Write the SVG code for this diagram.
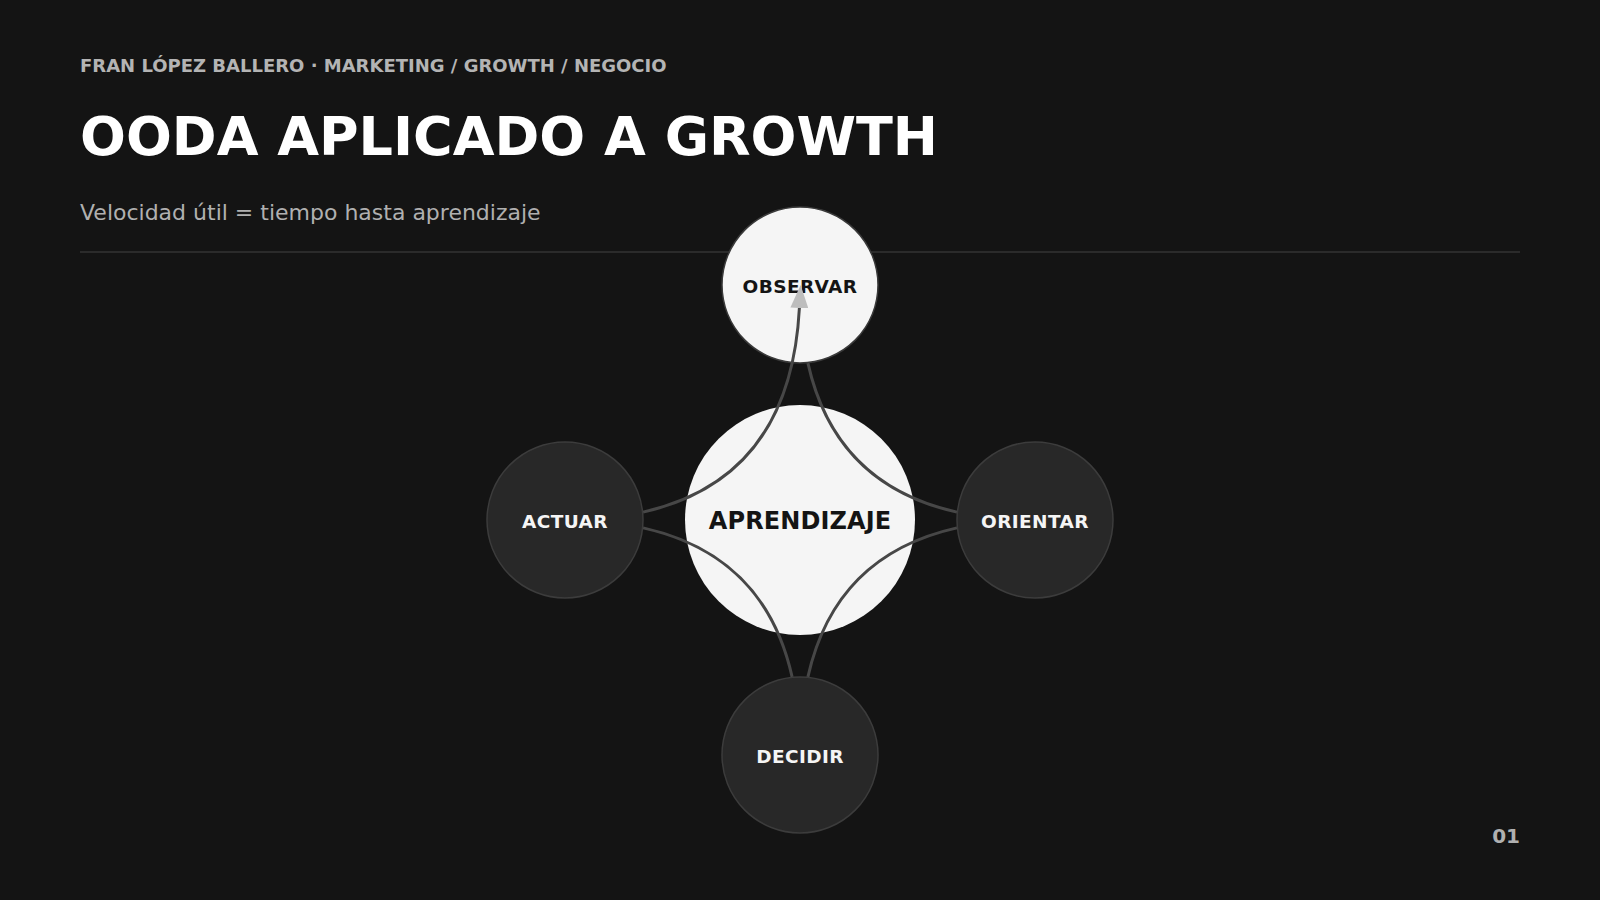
<svg xmlns="http://www.w3.org/2000/svg" width="1600" height="900" viewBox="0 0 1600 900">
  <defs>
    <style>
      .bg { fill: #141414; }
      .kicker { font-family: "DejaVu Sans", "Liberation Sans", sans-serif; font-weight: bold; font-size: 18px; fill: #b4b4b4; }
      .title { font-family: "DejaVu Sans", "Liberation Sans", sans-serif; font-weight: bold; font-size: 54px; fill: #ffffff; }
      .subtitle { font-family: "DejaVu Sans", "Liberation Sans", sans-serif; font-size: 22px; fill: #b0b0b0; }
      .rule { stroke: #333333; stroke-width: 1.5; }
      .pagenum { font-family: "DejaVu Sans", "Liberation Sans", sans-serif; font-weight: bold; font-size: 20px; fill: #b0b0b0; }
      .node-light { fill: #f5f5f5; stroke: #3a3a3a; stroke-width: 1.5; }
      .node-dark { fill: #282828; stroke: #3c3c3c; stroke-width: 1.5; }
      .core { fill: #f5f5f5; }
      .label { font-family: "DejaVu Sans", "Liberation Sans", sans-serif; font-weight: bold; font-size: 18.5px; letter-spacing: 0.4px; text-anchor: middle; }
      .label-dark { fill: #141414; }
      .label-light { fill: #f5f5f5; }
      .core-label { font-family: "DejaVu Sans", "Liberation Sans", sans-serif; font-weight: bold; font-size: 24px; letter-spacing: 0.1px; text-anchor: middle; fill: #141414; }
      .link { fill: none; stroke: #474747; stroke-width: 3; }
    </style>
    <marker id="arrow" markerUnits="userSpaceOnUse" markerWidth="23" markerHeight="18" refX="0" refY="9" orient="auto">
      <path d="M0,0 L23,9 L0,18 z" fill="#bdbdbd"/>
    </marker>
  </defs>

  <rect class="bg" x="0" y="0" width="1600" height="900"/>

  <g id="header">
    <text class="kicker" x="80" y="72">FRAN LÓPEZ BALLERO · MARKETING / GROWTH / NEGOCIO</text>
    <text class="title" x="80" y="155">OODA APLICADO A GROWTH</text>
    <text class="subtitle" x="80" y="220">Velocidad útil = tiempo hasta aprendizaje</text>
    <line class="rule" x1="80" y1="252" x2="1520" y2="252"/>
  </g>

  <g id="node-aprendizaje">
    <circle class="core" cx="800" cy="520" r="115"/>
    <text class="core-label" x="800" y="529">APRENDIZAJE</text>
  </g>

  <g id="node-observar">
    <circle class="node-light" cx="800" cy="285" r="78"/>
    <text class="label label-dark" x="800" y="293">OBSERVAR</text>
  </g>

  <g id="node-orientar">
    <circle class="node-dark" cx="1035" cy="520" r="78"/>
    <text class="label label-light" x="1035" y="528">ORIENTAR</text>
  </g>

  <g id="node-decidir">
    <circle class="node-dark" cx="800" cy="755" r="78"/>
    <text class="label label-light" x="800" y="763">DECIDIR</text>
  </g>

  <g id="node-actuar">
    <circle class="node-dark" cx="565" cy="520" r="78"/>
    <text class="label label-light" x="565" y="528">ACTUAR</text>
  </g>

  <g id="connectors">
    <path class="link" d="M807.9,363.1 Q835.1,484.9 956.9,512.1"/>
    <path class="link" d="M956.9,527.9 Q835.1,555.1 807.9,676.9"/>
    <path class="link" d="M792.1,676.9 Q764.9,555.1 643.1,527.9"/>
    <path class="link" d="M643.1,512.1 Q790.4,479.2 799.4,308" marker-end="url(#arrow)"/>
  </g>

  <g id="footer">
    <text class="pagenum" x="1520" y="843" text-anchor="end">01</text>
  </g>
</svg>
